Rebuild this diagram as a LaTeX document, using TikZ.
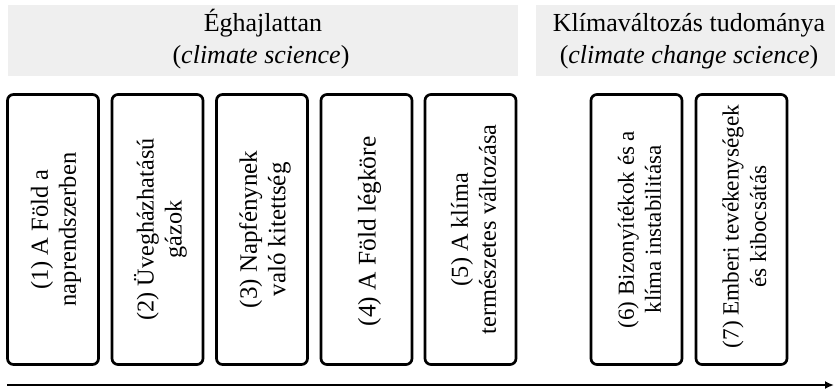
\documentclass[tikz,border=0pt]{standalone}
\usepackage{fontspec}
\setmainfont{Liberation Serif}
\usetikzlibrary{arrows.meta}
\definecolor{bandgray}{HTML}{EFEFEF}
\tikzset{
  band/.style={fill=bandgray, draw=none},
  titletext/.style={anchor=base, inner sep=0pt, font=\fontsize{26}{32}\selectfont},
  topicbox/.style={draw, line width=2.7pt, rounded corners=6pt,
    minimum width=91pt, minimum height=270pt, inner sep=0pt},
  boxlabel/.style={rotate=90, align=center, inner sep=0pt},
  timeline/.style={line width=1.8pt, -{Latex[length=9pt,width=8pt]}}
}
\begin{document}
\begin{tikzpicture}[x=1pt,y=-1pt]
\useasboundingbox (0,0) rectangle (835,390);
\fill[band] (8,5) rectangle (518,76);
\fill[band] (536,5) rectangle (835,76);
\node[titletext] (t1a) at (263,32) {Éghajlattan};
\node[titletext] (t1b) at (261,64) {(\textit{climate science})};
\node[titletext] (t2a) at (689,32) {Klímaváltozás tudománya};
\node[titletext] (t2b) at (689,64) {(\textit{climate change science})};
\node[topicbox] (b1) at (53,229.5) {};
\node[topicbox] (b2) at (157.5,229.5) {};
\node[topicbox] (b3) at (262,229.5) {};
\node[topicbox] (b4) at (366.5,229.5) {};
\node[topicbox] (b5) at (470.5,229.5) {};
\node[topicbox] (b6) at (636.5,229.5) {};
\node[topicbox] (b7) at (741.5,229.5) {};
\node[boxlabel, font=\fontsize{24.5}{28}\selectfont] (l1) at ([shift={(3,0)}]b1.center) {(1) A Föld a\\naprendszerben};
\node[boxlabel, font=\fontsize{24.2}{28}\selectfont] (l2) at ([shift={(3,0)}]b2.center) {(2) Üvegházhatású\\gázok};
\node[boxlabel, font=\fontsize{25}{28.5}\selectfont] (l3) at ([shift={(3,0)}]b3.center) {(3) Napfénynek\\való kitettség};
\node[boxlabel, font=\fontsize{25.4}{29}\selectfont] (l4) at ([shift={(3,2)}]b4.center) {(4) A Föld légköre};
\node[boxlabel, font=\fontsize{24.3}{28}\selectfont] (l5) at ([shift={(3,0)}]b5.center) {(5) A klíma\\természetes változása};
\node[boxlabel, font=\fontsize{23}{27}\selectfont] (l6) at ([shift={(3,0)}]b6.center) {(6) Bizonyítékok és a\\klíma instabilitása};
\node[boxlabel, font=\fontsize{23.2}{27.5}\selectfont] (l7) at ([shift={(3,-3)}]b7.center) {(7) Emberi tevékenységek\\és kibocsátás};
\coordinate (ts) at (7,385);
\coordinate (te) at (834,385);
\draw[timeline] (ts) -- (te);
\end{tikzpicture}
\end{document}
